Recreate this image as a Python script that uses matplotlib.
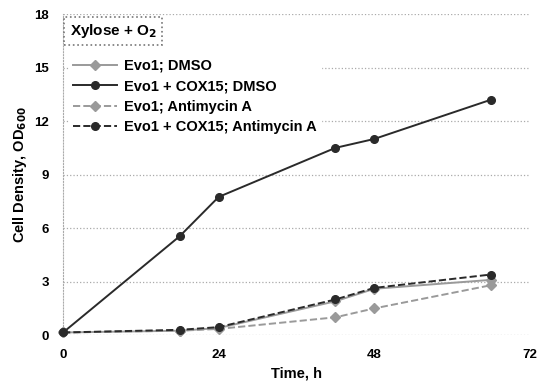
import matplotlib
matplotlib.use('Agg')
import matplotlib.pyplot as plt

# time points (h) and OD600 per strain / treatment
time_h = [0, 18, 24, 42, 48, 66]
evo1_dmso = [0.15, 0.25, 0.4, 1.9, 2.6, 3.1]
cox15_dmso = [0.15, 5.55, 7.75, 10.5, 11.0, 13.2]
evo1_anti = [0.15, 0.25, 0.35, 1.0, 1.5, 2.8]
cox15_anti = [0.15, 0.3, 0.45, 2.0, 2.65, 3.4]

labels = ['Evo1; DMSO', 'Evo1 + COX15; DMSO',
          'Evo1; Antimycin A', 'Evo1 + COX15; Antimycin A']
x_ticks = [0, 24, 48, 72]
y_ticks = [0, 3, 6, 9, 12, 15, 18]

plt.rcParams['font.family'] = ['Liberation Sans', 'DejaVu Sans']
plt.rcParams['font.weight'] = 'bold'

fig = plt.figure(figsize=(5.39, 3.92), dpi=100)
ax = fig.add_axes([0.117, 0.145, 0.866, 0.819])

light = '#9a9a9a'
dark = '#2a2a2a'
series = [
    (evo1_dmso, light, '-', 'D'),
    (cox15_dmso, dark, '-', 'o'),
    (evo1_anti, light, '--', 'D'),
    (cox15_anti, dark, '--', 'o'),
]
for (vals, c, ls, m), lab in zip(series, labels):
    ax.plot(time_h, vals, color=c, ls=ls, lw=1.4, marker=m, ms=5.5,
            mfc=c, mec=c, label=lab, clip_on=False, zorder=3)

ax.set_xlim(0, 72)
ax.set_ylim(0, 18)
ax.set_xticks(x_ticks)
ax.set_yticks(y_ticks)
ax.tick_params(length=0, labelsize=9.5, pad=10)
for s in ['top', 'right', 'bottom']:
    ax.spines[s].set_visible(False)
ax.spines['left'].set_linestyle(':')
ax.spines['left'].set_color('#aaaaaa')
ax.grid(axis='y', ls=':', color='#aaaaaa', lw=0.9)
ax.set_axisbelow(True)

ax.set_xlabel('Time, h', fontsize=10.5, fontweight='bold')
ax.set_ylabel('Cell Density, OD$_{\\mathbf{600}}$', fontsize=10.5, fontweight='bold')

ax.text(1.0, 17.55, 'Xylose + O$_{\\mathbf{2}}$', fontsize=11, fontweight='bold',
        va='top', ha='left',
        bbox=dict(boxstyle='square,pad=0.35', fc='white', ec='#777777', ls=':', lw=1.2))

leg = ax.legend(loc='upper left', bbox_to_anchor=(0.012, 0.875), frameon=True,
                fontsize=10.5, handlelength=3.0, labelspacing=0.45,
                borderaxespad=0, handletextpad=0.5, borderpad=0.3)
leg.get_frame().set_edgecolor('white')
leg.get_frame().set_alpha(1)

fig.savefig('out.png', dpi=100)
